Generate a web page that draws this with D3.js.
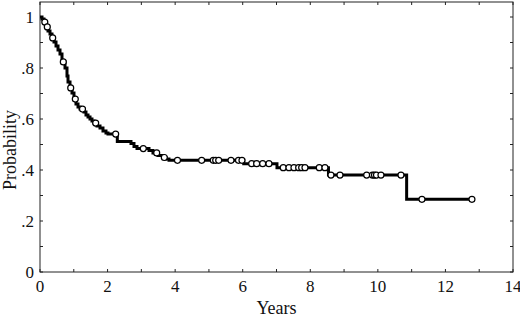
<!DOCTYPE html>
<html>
<head>
<meta charset="utf-8">
<script src="https://cdn.jsdelivr.net/npm/d3@7"></script>
<style>
  body { margin: 0; background: #fff; }
  svg { display: block; font-family: "Liberation Serif", "Times New Roman", serif; }
</style>
</head>
<body>
<svg id="chart"></svg>
<script>
// Kaplan-Meier steps: time (years) at which the curve drops, and survival after the drop
const stepTimes = [0, 0.059, 0.118, 0.178, 0.237, 0.296, 0.355, 0.414, 0.474, 0.533, 0.592, 0.651,
  0.740, 0.799, 0.829, 0.888, 0.947, 1.006, 1.065, 1.125, 1.184, 1.302, 1.361, 1.421, 1.480,
  1.539, 1.598, 1.687, 1.776, 1.864, 1.953, 2.012, 2.288, 2.693, 2.782, 2.871, 3.226, 3.344,
  3.492, 3.640, 3.729, 3.818, 6.03, 7.014, 8.538, 10.852];
const stepSurv = [1.0, 0.992, 0.980, 0.961, 0.945, 0.933, 0.918, 0.902, 0.886, 0.871, 0.855, 0.824,
  0.800, 0.769, 0.745, 0.722, 0.702, 0.678, 0.659, 0.647, 0.639, 0.627, 0.616, 0.608, 0.600,
  0.592, 0.584, 0.573, 0.565, 0.553, 0.545, 0.541, 0.512, 0.504, 0.492, 0.484, 0.476, 0.467,
  0.457, 0.449, 0.443, 0.438, 0.425, 0.409, 0.380, 0.285];
const endTime = 12.785;

// censored observations (years)
const censorTimes = [0.142, 0.216, 0.376, 0.690, 0.909, 1.045, 1.258, 1.648, 2.240, 3.057, 3.454,
  3.679, 4.069, 4.785, 5.129, 5.200, 5.289, 5.653, 5.875, 5.978, 6.265, 6.413, 6.591, 6.777,
  7.200, 7.369, 7.517, 7.656, 7.745, 7.843, 8.266, 8.434, 8.612, 8.879, 9.669, 9.840, 9.900,
  9.959, 10.092, 10.684, 11.305, 12.785];

const xTicks = d3.range(0, 15, 1);
const xLabels = [0, 2, 4, 6, 8, 10, 12, 14];
const yTicks = d3.range(0, 1.01, 0.1);
const yLabels = [0, 0.2, 0.4, 0.6, 0.8, 1];

const width = 520, height = 318;
const margin = { top: 2, right: 7, bottom: 46, left: 40 };

const svg = d3.select("#chart").attr("width", width).attr("height", height);

const x = d3.scaleLinear().domain([0, 14]).range([margin.left, width - margin.right]);
const y = d3.scaleLinear().domain([0, 1]).range([height - margin.bottom, 17]);

const frameTop = margin.top, frameBottom = height - margin.bottom;
const frameLeft = margin.left, frameRight = width - margin.right;

// frame
svg.append("rect")
  .attr("x", frameLeft).attr("y", frameTop)
  .attr("width", frameRight - frameLeft).attr("height", frameBottom - frameTop)
  .attr("fill", "none").attr("stroke", "#222").attr("stroke-width", 1);

// inward ticks on all four sides
const tl = 3;
svg.append("g").selectAll("line").data(xTicks).join("line")
  .attr("x1", d => x(d)).attr("x2", d => x(d))
  .attr("y1", frameBottom).attr("y2", frameBottom - tl)
  .attr("stroke", "#222");
svg.append("g").selectAll("line").data(xTicks).join("line")
  .attr("x1", d => x(d)).attr("x2", d => x(d))
  .attr("y1", frameTop).attr("y2", frameTop + tl)
  .attr("stroke", "#222");
svg.append("g").selectAll("line").data(yTicks).join("line")
  .attr("x1", frameLeft).attr("x2", frameLeft + tl)
  .attr("y1", d => y(d)).attr("y2", d => y(d))
  .attr("stroke", "#222");
svg.append("g").selectAll("line").data(yTicks).join("line")
  .attr("x1", frameRight).attr("x2", frameRight - tl)
  .attr("y1", d => y(d)).attr("y2", d => y(d))
  .attr("stroke", "#222");

// tick labels
const fmtY = d => d === 0 ? "0" : d === 1 ? "1" : d3.format(".1f")(d).replace(/^0/, "");
svg.append("g").selectAll("text").data(xLabels).join("text")
  .attr("x", d => x(d)).attr("y", 292)
  .attr("text-anchor", "middle")
  .attr("font-size", 17).attr("fill", "#111")
  .text(d => d);
svg.append("g").selectAll("text").data(yLabels).join("text")
  .attr("x", 34).attr("y", d => y(d) + 6)
  .attr("text-anchor", "end")
  .attr("font-size", 17).attr("fill", "#111")
  .text(fmtY);

// axis titles
svg.append("text")
  .attr("x", (frameLeft + frameRight) / 2).attr("y", 314)
  .attr("text-anchor", "middle").attr("font-size", 18).attr("fill", "#111")
  .text("Years");
svg.append("text")
  .attr("transform", `translate(16,${150}) rotate(-90)`)
  .attr("text-anchor", "middle").attr("font-size", 18).attr("fill", "#111")
  .text("Probability");

// survival curve
const steps = stepTimes.map((t, i) => ({ t, s: stepSurv[i] }));
steps.push({ t: endTime, s: stepSurv[stepSurv.length - 1] });

const line = d3.line()
  .x(d => x(d.t))
  .y(d => y(d.s))
  .curve(d3.curveStepAfter);

svg.append("path")
  .datum(steps)
  .attr("fill", "none")
  .attr("stroke", "#000")
  .attr("stroke-width", 3)
  .attr("stroke-linejoin", "miter")
  .attr("d", line);

// censor marks sit on the curve
const bis = d3.bisector(d => d.t).right;
const survAt = t => steps[Math.max(0, bis(steps, t) - 1)].s;

svg.append("g").selectAll("circle").data(censorTimes).join("circle")
  .attr("cx", d => x(d))
  .attr("cy", d => y(survAt(d)))
  .attr("r", 3)
  .attr("fill", "#fff")
  .attr("stroke", "#000")
  .attr("stroke-width", 1.2);
</script>
</body>
</html>
